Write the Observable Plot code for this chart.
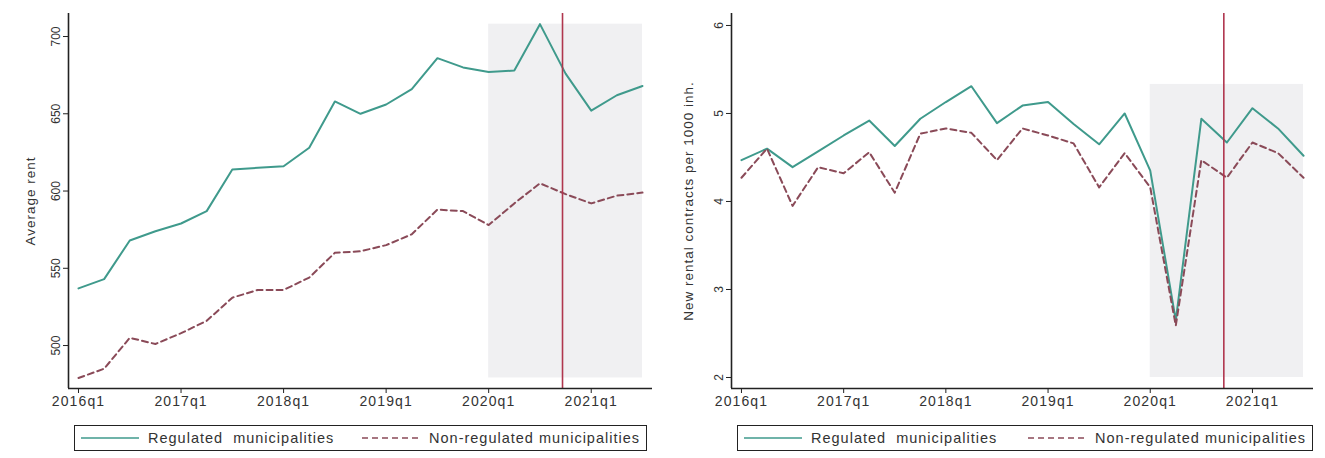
<!DOCTYPE html>
<html>
<head>
<meta charset="utf-8">
<script src="https://cdn.jsdelivr.net/npm/d3@7"></script>
<script src="https://cdn.jsdelivr.net/npm/@observablehq/plot@0.6"></script>
<style>
  body { margin: 0; background: #fff; font-family: "Liberation Sans", Arial, sans-serif; }
  #wrap { position: relative; width: 1325px; height: 458px; }
  .panel { position: absolute; top: 0; width: 662px; }
  .legend { position: absolute; top: 425px; height: 26px; border: 1.5px solid #222; box-sizing: border-box;
            display: flex; align-items: center; justify-content: space-between; padding: 0 6px;
            font-size: 14.5px; color: #333; letter-spacing: 1px; }
  .item { display: flex; align-items: center; gap: 9px; }
  .xt text { letter-spacing: 1.1px; }
  .yl text { letter-spacing: 1px; }
</style>
</head>
<body>
<div id="wrap"></div>
<script>
// ---- data ----
const quarters = ["2016q1","2016q2","2016q3","2016q4","2017q1","2017q2","2017q3","2017q4",
  "2018q1","2018q2","2018q3","2018q4","2019q1","2019q2","2019q3","2019q4",
  "2020q1","2020q2","2020q3","2020q4","2021q1","2021q2","2021q3"];
const rentRegulated    = [537,543,568,574,579,587,614,615,616,628,658,650,656,666,686,680,677,678,708,676,652,662,668];
const rentNonRegulated = [479,485,505,501,508,516,531,536,536,544,560,561,565,572,588,587,578,592,605,598,592,597,599];
const contractsRegulated    = [4.47,4.60,4.39,4.57,4.75,4.92,4.63,4.94,5.13,5.31,4.89,5.09,5.13,4.88,4.65,5.00,4.35,2.65,4.94,4.67,5.06,4.83,4.52];
const contractsNonRegulated = [4.27,4.60,3.95,4.39,4.32,4.56,4.10,4.77,4.83,4.78,4.47,4.83,4.75,4.66,4.16,4.55,4.16,2.59,4.47,4.27,4.67,4.55,4.27];
const xTickQuarters = ["2016q1","2017q1","2018q1","2019q1","2020q1","2021q1"];
const rentTicks = [500,550,600,650,700];
const contractTicks = [2,3,4,5,6];
const shadeStart = "2020q1", shadeEnd = "2021q3";
const rentShade = [479, 708];
const contractShade = [2.0, 5.33];
const policyQuarter = 18.88; // quarter index of the regulation date (late 2020q3)
const seriesNames = ["Regulated  municipalities", "Non-regulated municipalities"];

const colReg = "#3f9a8c", colNon = "#8a4a58", colRed = "#b0364e", colShade = "#f0f0f2";
const qIndex = q => quarters.indexOf(q);

function panel({reg, non, ticks, yDomain, shade, ylabel, labelDx, marginLeft, marginRight}) {
  const rows = quarters.map((q, i) => ({t: i, q, reg: reg[i], non: non[i]}));
  const xDomain = [-0.39, quarters.length - 1 + 0.39];
  return Plot.plot({
    width: 662, height: 415,
    marginTop: 13, marginBottom: 27, marginLeft, marginRight,
    style: {fontFamily: "'Liberation Sans', Arial, sans-serif", fontSize: "14px", color: "#333", background: "#fff"},
    x: {domain: xDomain},
    y: {domain: yDomain},
    marks: [
      Plot.rect([{x1: qIndex(shadeStart), x2: qIndex(shadeEnd), y1: shade[0], y2: shade[1]}],
        {x1: "x1", x2: "x2", y1: "y1", y2: "y2", fill: colShade}),
      Plot.line(rows, {x: "t", y: "reg", stroke: colReg, strokeWidth: 2}),
      Plot.line(rows, {x: "t", y: "non", stroke: colNon, strokeWidth: 2, strokeDasharray: "6,4"}),
      Plot.ruleX([policyQuarter], {stroke: colRed, strokeWidth: 1.6}),
      Plot.ruleX([xDomain[0]], {stroke: "#222", strokeWidth: 1.6}),
      Plot.ruleY([yDomain[0]], {stroke: "#222", strokeWidth: 1.6}),
      Plot.axisX(xTickQuarters.map(qIndex), {tickSize: 5, tickPadding: 3, tickFormat: i => quarters[i], label: null,
        stroke: "#222", fill: "#333", fontSize: 14, className: "xt"}),
      Plot.axisY(ticks, {tickSize: 5, tickPadding: 4, tickRotate: -90, tickFormat: d => String(d), label: null,
        stroke: "#222", fill: "#333", fontSize: 12}),
      Plot.text([ylabel], {frameAnchor: "left", rotate: -90, dx: labelDx, textAnchor: "middle", fontSize: 13.5,
        fill: "#333", text: d => d, className: "yl"})
    ]
  });
}

const wrap = document.getElementById("wrap");
const specs = [
  {left: 0, reg: rentRegulated, non: rentNonRegulated, ticks: rentTicks, yDomain: [472.2, 714.9], shade: rentShade,
   ylabel: "Average rent", labelDx: -38, marginLeft: 68, marginRight: 10, legLeft: 74, legWidth: 573},
  {left: 662, reg: contractsRegulated, non: contractsNonRegulated, ticks: contractTicks, yDomain: [1.875, 6.136], shade: contractShade,
   ylabel: "New rental contracts per 1000 inh.", labelDx: -43, marginLeft: 69, marginRight: 11, legLeft: 737, legWidth: 576}
];
for (const s of specs) {
  const div = document.createElement("div");
  div.className = "panel";
  div.style.left = s.left + "px";
  div.appendChild(panel(s));
  wrap.appendChild(div);

  const leg = document.createElement("div");
  leg.className = "legend";
  leg.style.left = s.legLeft + "px";
  leg.style.width = s.legWidth + "px";
  const items = [[seriesNames[0], colReg, null], [seriesNames[1], colNon, "6,4"]];
  for (const [name, col, dash] of items) {
    const it = document.createElement("div");
    it.className = "item";
    it.innerHTML = `<svg width="58" height="6"><line x1="0" y1="3" x2="58" y2="3" stroke="${col}" stroke-width="1.6" ${dash ? `stroke-dasharray="${dash}"` : ""}/></svg><span style="white-space:pre">${name}</span>`;
    leg.appendChild(it);
  }
  wrap.appendChild(leg);
}
</script>
</body>
</html>
